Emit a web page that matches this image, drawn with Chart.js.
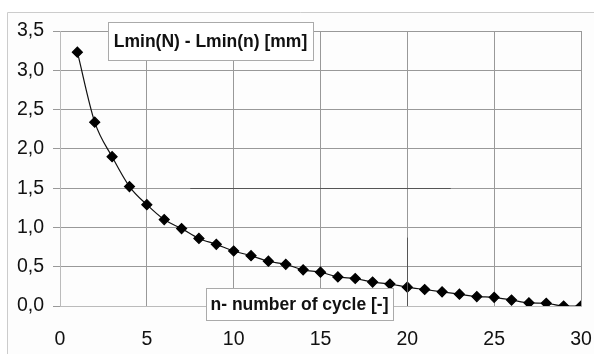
<!DOCTYPE html>
<html>
<head>
<meta charset="utf-8">
<script src="https://cdn.jsdelivr.net/npm/chart.js@4"></script>
<style>
  html, body { margin: 0; padding: 0; background: #fff; }
  #wrap { width: 594px; height: 354px; }
</style>
</head>
<body>
<div id="wrap"><canvas id="chart" width="594" height="354"></canvas></div>
<script>
const cycles = [1, 2, 3, 4, 5, 6, 7, 8, 9, 10, 11, 12, 13, 14, 15, 16, 17, 18, 19, 20, 21, 22, 23, 24, 25, 26, 27, 28, 29, 30];
const deltaL = [3.23, 2.34, 1.90, 1.52, 1.29, 1.10, 0.985, 0.86, 0.785, 0.70, 0.64, 0.57, 0.53, 0.46, 0.43, 0.37, 0.35, 0.305, 0.28, 0.24, 0.21, 0.18, 0.15, 0.12, 0.11, 0.076, 0.04, 0.035, 0.0, 0.0];
const yTitle = 'Lmin(N) - Lmin(n) [mm]';
const xTitle = 'n- number of cycle [-]';

const points = cycles.map((c, i) => ({ x: c, y: deltaL[i] }));

// frame, background and the two label boxes drawn over the plot
const decor = {
    id: 'decor',
    beforeDraw(chart) {
        const ctx = chart.ctx;
        ctx.save();
        ctx.fillStyle = '#fdfdfd';
        ctx.fillRect(7, 12, 587, 342);
        ctx.strokeStyle = '#cccccc';
        ctx.lineWidth = 1;
        ctx.beginPath();
        ctx.moveTo(7.5, 354);
        ctx.lineTo(7.5, 12.5);
        ctx.lineTo(594, 12.5);
        ctx.stroke();
        ctx.restore();
    },
    afterDatasetsDraw(chart) {
        const ctx = chart.ctx;
        const xs = chart.scales.x, ys = chart.scales.y;
        ctx.save();
        // darker stray segments seen in the original
        ctx.strokeStyle = '#555';
        ctx.lineWidth = 1;
        ctx.beginPath();
        const y15 = Math.round(ys.getPixelForValue(1.5)) + 0.5;
        ctx.moveTo(xs.getPixelForValue(7.5), y15);
        ctx.lineTo(xs.getPixelForValue(22.5), y15);
        const x20 = Math.round(xs.getPixelForValue(20)) + 0.5;
        ctx.moveTo(x20, ys.getPixelForValue(0.87));
        ctx.lineTo(x20, ys.getPixelForValue(0));
        ctx.stroke();

        ctx.font = 'bold 17.5px "Liberation Sans", Arial, sans-serif';
        ctx.textBaseline = 'middle';
        ctx.textAlign = 'center';
        function box(x, y, w, h, text) {
            ctx.fillStyle = '#ffffff';
            ctx.fillRect(x, y, w, h);
            ctx.strokeStyle = '#aaaaaa';
            ctx.strokeRect(x + 0.5, y + 0.5, w, h);
            ctx.fillStyle = '#111';
            ctx.fillText(text, x + w / 2, y + h / 2 + 1);
        }
        box(108, 22, 205, 38, yTitle);
        box(206, 288, 187, 32, xTitle);
        ctx.restore();
    }
};

new Chart(document.getElementById('chart'), {
    type: 'line',
    data: {
        datasets: [{
            data: points,
            borderColor: '#111',
            borderWidth: 1.2,
            backgroundColor: '#000',
            pointStyle: 'rectRot',
            pointRadius: 5,
            pointBackgroundColor: '#000',
            pointBorderColor: '#000',
            cubicInterpolationMode: 'monotone',
            fill: false
        }]
    },
    options: {
        responsive: false,
        animation: false,
        layout: { padding: { top: 31, right: 13, left: 0, bottom: 0 } },
        plugins: {
            legend: { display: false },
            tooltip: { enabled: false }
        },
        scales: {
            x: {
                type: 'linear',
                min: 0,
                max: 30,
                afterFit(scale) {
                    scale.height = 48;
                    scale.paddingLeft = 0;
                    scale.paddingRight = 0;
                },
                ticks: {
                    stepSize: 5,
                    padding: 22,
                    color: '#111',
                    font: { family: '"Liberation Sans", Arial, sans-serif', size: 19.5 }
                },
                grid: { color: '#999', drawTicks: false, tickLength: 0 },
                border: { color: '#bbb' }
            },
            y: {
                min: 0,
                max: 3.5,
                afterFit(scale) {
                    scale.width = 60;
                    scale.paddingTop = 0;
                    scale.paddingBottom = 0;
                },
                ticks: {
                    stepSize: 0.5,
                    padding: 9,
                    color: '#111',
                    font: { family: '"Liberation Sans", Arial, sans-serif', size: 19.5 },
                    callback: v => v.toFixed(1).replace('.', ',')
                },
                grid: { color: '#999', tickLength: 7 },
                border: { color: '#bbb' }
            }
        }
    },
    plugins: [decor]
});
</script>
</body>
</html>
